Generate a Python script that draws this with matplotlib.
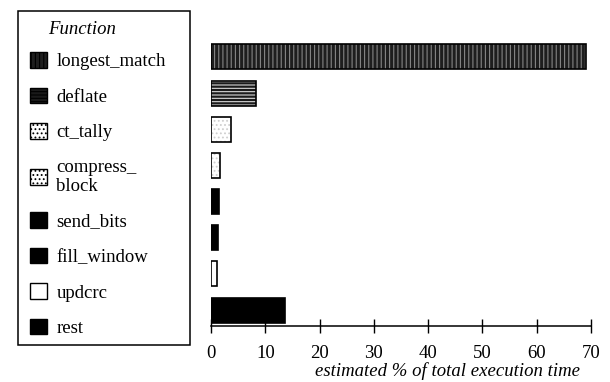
import numpy as np
import matplotlib
matplotlib.use("Agg")
import matplotlib.pyplot as plt
from matplotlib.patches import Patch, Rectangle

functions = ["longest_match", "deflate", "ct_tally", "compress_\nblock",
             "send_bits", "fill_window", "updcrc", "rest"]
percent = [69.0, 8.2, 3.6, 1.6, 1.5, 1.3, 1.1, 13.7]
ticks = [0, 10, 20, 30, 40, 50, 60, 70]

# fill, hatch colour, hatch per function
styles = [
    ("#1e1e1e", "#858585", "||||"),
    ("#1a1a1a", "#d8d8d8", "-----"),
    ("white", "#cfcfcf", "...."),
    ("white", "#cfcfcf", "...."),
    ("black", "black", None),
    ("black", "black", None),
    ("white", "black", None),
    ("black", "black", None),
]

plt.rcParams["font.family"] = ["Liberation Serif", "DejaVu Serif"]
plt.rcParams["hatch.linewidth"] = 0.8

fig = plt.figure(figsize=(6.1, 3.82), dpi=100)
ax = fig.add_axes([211 / 610, 1 - 326 / 382, 380 / 610, 306 / 382])

y = np.arange(len(functions))
for i, (val, (fc, hc, hatch)) in enumerate(zip(percent, styles)):
    if hatch:
        ax.barh(y[i], val, height=0.69, color=fc, edgecolor=hc, hatch=hatch, linewidth=0)
        ax.barh(y[i], val, height=0.69, fill=False, edgecolor="black", linewidth=1.2)
    else:
        ax.barh(y[i], val, height=0.69, color=fc, edgecolor="black", linewidth=1.2)

ax.set_xlim(0, 70)
ax.set_ylim(7.44, -1.02)
ax.set_yticks([])
for s in ["top", "right", "left"]:
    ax.spines[s].set_visible(False)
ax.spines["bottom"].set_linewidth(1.1)
ax.set_xticks(ticks)
ax.tick_params(axis="x", direction="inout", length=10, width=1, labelsize=13.5, pad=9)
ax.set_xlabel("estimated % of total execution time", fontsize=13.5, style="italic", ha="right")
ax.xaxis.set_label_coords((580 - 211) / 380, -(362 - 326) / 306)
ax.patch.set_alpha(0)

handles = []
for fc, hc, hatch in styles:
    if hatch:
        handles.append(Patch(facecolor=fc, edgecolor="black", hatch=hatch, linewidth=1))
    else:
        handles.append(Patch(facecolor=fc, edgecolor="black", linewidth=1))

fig.text(82 / 610, 1 - 30 / 382, "Function", fontsize=13.5, style="italic",
         ha="center", va="center")
leg = fig.legend(handles, functions, loc="upper left", bbox_to_anchor=(30 / 610, 1 - 52 / 382),
                 frameon=False, fontsize=13.5, borderpad=0, borderaxespad=0,
                 handlelength=0.9, handleheight=0.9, handletextpad=0.5, labelspacing=0.92)

fig.patches.append(Rectangle((18 / 610, 1 - 345 / 382), 172 / 610, 334 / 382,
                             transform=fig.transFigure, fill=False, edgecolor="black",
                             linewidth=1.1))

fig.savefig("out.png", dpi=100)
